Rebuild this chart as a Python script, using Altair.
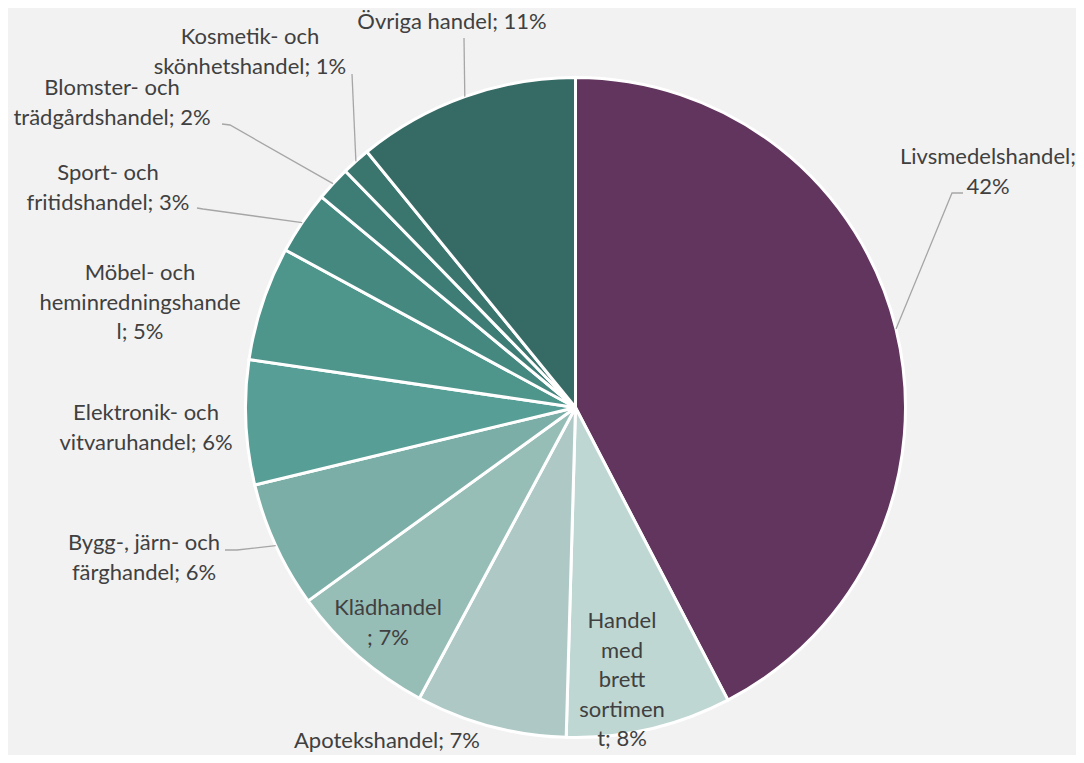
import altair as alt
import pandas as pd
import numpy as np

# ---- data ----
categories = ["Livsmedelshandel", "Handel med brett sortiment", "Apotekshandel", "Klädhandel",
              "Bygg-, järn- och färghandel", "Elektronik- och vitvaruhandel",
              "Möbel- och heminredningshandel", "Sport- och fritidshandel",
              "Blomster- och trädgårdshandel", "Kosmetik- och skönhetshandel", "Övriga handel"]
values = [42.4, 8.1, 7.4, 7.2, 6.2, 6.1, 5.6, 3.1, 1.7, 1.4, 10.9]
label_texts = ["Livsmedelshandel;\n42%", "Handel\nmed\nbrett\nsortimen\nt; 8%", "Apotekshandel; 7%",
               "Klädhandel\n; 7%", "Bygg-, järn- och\nfärghandel; 6%", "Elektronik- och\nvitvaruhandel; 6%",
               "Möbel- och\nheminredningshande\nl; 5%", "Sport- och\nfritidshandel; 3%",
               "Blomster- och\nträdgårdshandel; 2%", "Kosmetik- och\nskönhetshandel; 1%",
               "Övriga handel; 11%"]
colors = ["#62355F", "#BFD7D3", "#AEC9C5", "#97BDB7", "#7BAEA6", "#579F96",
          "#4E958B", "#448880", "#3E7D76", "#3A756E", "#366B65"]

# ---- layout (page pixel positions of label first lines and leader bends) ----
CX, CY = 575.5, 407.5          # pie centre on the page
R = 330                        # pie radius
label_pos = {
    "Livsmedelshandel": (988, 157),
    "Handel med brett sortiment": (622, 621),
    "Apotekshandel": (387, 741),
    "Klädhandel": (388, 608),
    "Bygg-, järn- och färghandel": (144, 543),
    "Elektronik- och vitvaruhandel": (146, 413),
    "Möbel- och heminredningshandel": (140, 273),
    "Sport- och fritidshandel": (108, 173),
    "Blomster- och trädgårdshandel": (112, 88),
    "Kosmetik- och skönhetshandel": (250, 37),
    "Övriga handel": (452, 22),
}
leader_pts = {
    "Livsmedelshandel": [(952, 193), (963, 193)],
    "Övriga handel": [(464, 38)],
    "Kosmetik- och skönhetshandel": [(352, 74)],
    "Blomster- och trädgårdshandel": [(230, 125), (222, 124)],
    "Sport- och fritidshandel": [(203, 209), (197, 208)],
    "Bygg-, järn- och färghandel": [(237, 550), (225, 550)],
}

W = H = 680
PL = CX - 8 - W / 2
PT = CY - 8 - H / 2
TOTW, TOTH = 1068, 747

df = pd.DataFrame({"cat": categories, "value": values, "idx": list(range(len(categories))),
                   "label": label_texts})

# label table
lab = pd.DataFrame({
    "cat": categories,
    "label": label_texts,
    "x": [label_pos[c][0] - CX for c in categories],
    "y": [label_pos[c][1] - CY for c in categories],
})

# leader lines: start at slice edge at mid-angle (from data)
total = sum(values)
cum = np.cumsum([0] + values[:-1])
rows = []
for c, v, b in zip(categories, values, cum):
    if c not in leader_pts:
        continue
    a = 2 * np.pi * (b + v / 2) / total
    rows.append({"cat": c, "o": 0, "x": R * np.sin(a), "y": -R * np.cos(a)})
    for k, (px, py) in enumerate(leader_pts[c]):
        rows.append({"cat": c, "o": k + 1, "x": px - CX, "y": py - CY})
lead = pd.DataFrame(rows)

xs = alt.Scale(domain=[-W / 2, W / 2])
ys = alt.Scale(domain=[-H / 2, H / 2], reverse=True)

pie = alt.Chart(df).mark_arc(outerRadius=R, stroke="white", strokeWidth=3).encode(
    theta=alt.Theta("value:Q", stack=True),
    color=alt.Color("cat:N", scale=alt.Scale(domain=categories, range=colors), legend=None),
    order=alt.Order("idx:Q"),
)

lines = alt.Chart(lead).mark_line(color="#A6A6A6", strokeWidth=1.3).encode(
    x=alt.X("x:Q", scale=xs, axis=None),
    y=alt.Y("y:Q", scale=ys, axis=None),
    detail="cat:N",
    order="o:Q",
)

texts = alt.Chart(lab).mark_text(font="Lato", fontSize=22, color="#404040", lineBreak="\n",
                                 lineHeight=29.5, align="center", baseline="middle").encode(
    x=alt.X("x:Q", scale=xs, axis=None),
    y=alt.Y("y:Q", scale=ys, axis=None),
    text="label:N",
)

chart = alt.layer(pie, lines, texts).properties(
    width=W, height=H,
    autosize=alt.AutoSizeParams(type="none"),
    padding={"left": PL, "top": PT, "right": TOTW - PL - W, "bottom": TOTH - PT - H},
    background="#F2F2F2",
).configure_view(stroke=None)

chart.save("out.html", embed_options={"renderer": "svg", "actions": False})
